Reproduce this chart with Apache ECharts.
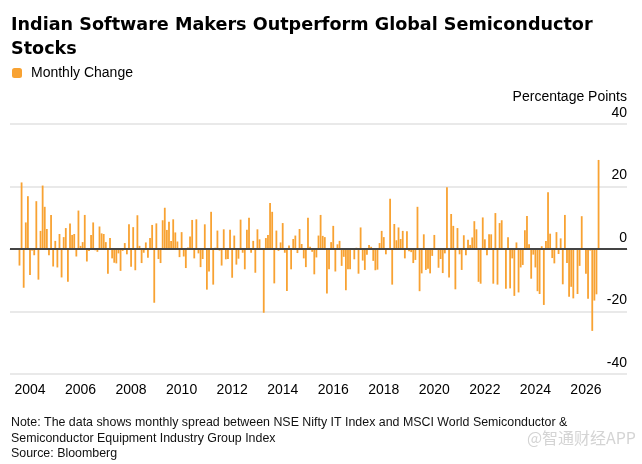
<!DOCTYPE html>
<html>
<head>
<meta charset="utf-8">
<script src="https://cdn.jsdelivr.net/npm/echarts@6/dist/echarts.min.js"></script>
<style>
	html, body { margin: 0; padding: 0; background: #fff; }
	#chart01 { width: 642px; height: 464px; }
</style>
</head>
<body>
<div id="chart01"></div>
<script>
// 첫 데이터 월 (막대 하나 = 한 달)
const firstMonth = [2003, 8];
// 축 왼쪽/오른쪽 여백 (빈 달 수)
const padBefore = 4;
const padAfter = 13;

// 월별 스프레드 (Percentage Points), 2003-08 ~ 2026-07
const monthlyChange = [
	// 2003-08 ~
	-5.3, 21.3, -12.4, 8.5, 16.9, -8.3, -0.5, -2, 15.3, -9.8, 5.8, 20.3, 13.5, 6.4, -2, 10.9,
	-5.6, 2.6, -5.9, 4.8, -9.1, 3.8, 6.7, -10.5, 8.2, 4.5, 4.8, -2.4, 12.3, 1, 2.2, 10.9,
	-4, -0.6, 4.5, 8.5, -0.4, -0.9, 7.2, 5, 4.8, 2.2, -7.9, 3.5,
	-3, -4.4, -4.6, -1.4, -7, -0.6, 1.9, -1.7, 7.9, -5.7, 7, -6.8, 10.8, 1, -4.5, -1.2,
	2.1, -2.8, 3.5, 7.7, -17.2, 8.2, -3.2, -4.5, 9.2, 13.2, 6.1, 8.7, 2.6, 9.5, 5.3, 2.4,
	-2.6, 5.4, -2.4, -6.1, 0.5, 4, 9.3, -3, 9.5, -1.4, -5.8, -3.2, 7.9, -13, -7.2,
	11.9, -11.4, 0.4, 5.9, -0.5, -5.3, 6.3, -3.3, -3.2, 6.2, -9.2, 4.3, -5, -3.1, 9.4, -1.2,
	-6.5, 6.2, 10, -1.2, 2.6, -7.6, 6.3, 3.1, 0.3, -20.4, 3.5, 4.5, 14.7, 11.9, -11, 5.9,
	-0.6, 2.1, 8.3, -1.2, -13.4, 1.1, -6.5, 3.2, 4.3, -1.3, 6.4, 1.6, -3, -5.8, 10, 0.7,
	-0.9, -8.1, -2.7, 4.3, 10.9, 4.2, 3.8, -14.2, -6.5, 2.2, 7.4, -7.2, 1.5, 2.6, -5.4, -2.5,
	-13.2, -6.5, -6.5, -0.3, -3.3, 0.4, -7.9, 6.9, -3.7, -6.7, -1.8, 1.3, 0.7, -3.8, -6.8, -6.6,
	1.9, 5.8, 3.8, -1.7, 0.3, 16.1, -11.4, 8, 2.8, 6.9, 3.2, 5.8, -3, 5.7, -0.7,
	-1, -4.5, -3.5, 13.5, -13.5, -7.8, 4.7, -6.7, -6.3, -7.8, -2.2, 4.5, -0.3, -6, -3.2, -7.7,
	-1.4, 19.8, -9.1, 11.2, 7.4, -12.9, 6.7, -1.7, -6.7, 4.4, -2, 3, 1.3, 3.7, 8.9, 6.3,
	-10.5, -11.1, 10.1, 3.1, -2, 4.7, 4.7, -11.1, 11.5, -11.4, 8.3, 9.2, 0.3, -12.7, 3.8,
	-12.6, -3, -15, 2.1, -13.9, -5.9, -5.1, 6, 10.6, 1.5, -9.5, -1.8, -5.9, -13.5, -14.4, 0.9,
	-17.9, 2.6, 18.2, 4.9, -2.9, -4.6, 5.4, -1.6, 3.4, -11.3, 10.9, -4.5, -15.3, -12.1, -15.8, 0.3,
	-14.4, -5.4, 10.5, 0.3, -7.9, -15.9, -0.5, -26.2, -16.5, -14.5, 28.5
];

// x축 라벨 (짝수 연도)
const yearLabels = ['2004', '2006', '2008', '2010', '2012', '2014', '2016', '2018', '2020', '2022', '2024', '2026'];
// y축 눈금
const yTicks = [-40, -20, 0, 20, 40];

const noteLines = [
	'Note: The data shows monthly spread between NSE Nifty IT Index and MSCI World Semiconductor &',
	'Semiconductor Equipment Industry Group Index',
	'Source: Bloomberg'
];

// 카테고리(월) 생성
const months = [];
const barData = [];
const total = padBefore + monthlyChange.length + padAfter;
for (let i = 0; i < total; i++) {
	const m0 = firstMonth[1] - 1 - padBefore + i;
	const y = firstMonth[0] + Math.floor(m0 / 12);
	const m = ((m0 % 12) + 12) % 12 + 1;
	months.push(y + '-' + String(m).padStart(2, '0'));
	const k = i - padBefore;
	barData.push(k >= 0 && k < monthlyChange.length ? monthlyChange[k] : null);
}

const isLabelYear = (val) => val.endsWith('-01') && yearLabels.includes(val.slice(0, 4));
const isOtherYear = (val) => val.endsWith('-01') && !yearLabels.includes(val.slice(0, 4));

const FONT = '"Liberation Sans", Arial, sans-serif';

const option = {
	animation: false,
	textStyle: { fontFamily: FONT },
	title: {
		text: 'Indian Software Makers Outperform Global Semiconductor\nStocks',
		left: 11,
		top: 13,
		padding: 0,
		textStyle: {
			fontSize: 17.6,
			fontWeight: 'bold',
			lineHeight: 24.5,
			color: '#000',
			fontFamily: '"DejaVu Sans", sans-serif'
		}
	},
	legend: {
		data: ['Monthly Change'],
		left: 12,
		top: 66,
		padding: 0,
		icon: 'roundRect',
		itemWidth: 10,
		itemHeight: 10,
		textStyle: { fontSize: 14, color: '#000', padding: [0, 0, 0, 4] }
	},
	grid: {
		left: 10,
		width: 617,
		top: 124,
		bottom: 90
	},
	xAxis: [
		{
			type: 'category',
			data: months,
			boundaryGap: true,
			axisLine: { lineStyle: { color: '#cfcfcf', width: 1 } },
			axisTick: {
				interval: (idx, val) => isLabelYear(val),
				length: 5,
				lineStyle: { color: '#555', width: 1 }
			},
			axisLabel: {
				interval: (idx, val) => isLabelYear(val),
				formatter: (val) => val.slice(0, 4),
				fontSize: 14,
				color: '#000',
				margin: 9
			},
			splitLine: { show: false }
		},
		{
			type: 'category',
			data: months,
			position: 'bottom',
			boundaryGap: true,
			axisLine: { show: false },
			axisTick: {
				interval: (idx, val) => isOtherYear(val),
				length: 3,
				lineStyle: { color: '#c8c8c8', width: 1 }
			},
			axisLabel: { show: false },
			splitLine: { show: false }
		}
	],
	yAxis: {
		type: 'value',
		position: 'right',
		min: yTicks[0],
		max: yTicks[yTicks.length - 1],
		interval: 20,
		name: 'Percentage Points',
		nameLocation: 'end',
		nameGap: 27,
		nameTextStyle: { fontSize: 14, color: '#000', align: 'right', verticalAlign: 'middle' },
		axisLine: { show: false },
		axisTick: { show: false },
		axisLabel: {
			inside: true,
			margin: 0,
			fontSize: 14,
			color: '#000',
			verticalAlign: 'bottom',
			padding: [0, 0, 4, 0]
		},
		splitLine: { lineStyle: { color: '#e2e2e2', width: 1.5 } }
	},
	series: [
		{
			name: 'Monthly Change',
			type: 'bar',
			data: barData,
			barWidth: 1.8,
			itemStyle: { color: '#F8A232' },
			markLine: {
				silent: true,
				symbol: 'none',
				label: { show: false },
				lineStyle: { color: '#444', width: 2, type: 'solid' },
				data: [{ yAxis: 0 }],
				z: 10
			}
		}
	],
	graphic: [
		{
			type: 'text',
			left: 11,
			top: 415,
			style: {
				text: noteLines.join('\n'),
				font: '12.4px ' + FONT,
				lineHeight: 15.5,
				fill: '#111'
			}
		},
		{
			type: 'text',
			right: 6,
			top: 430,
			style: {
				text: '@智通财经APP',
				font: '16px "Noto Sans CJK SC", sans-serif',
				fill: '#d4d4d4'
			}
		}
	]
};

const myChart = echarts.init(document.getElementById('chart01'), null, { renderer: 'canvas' });
myChart.setOption(option);
window.addEventListener('resize', myChart.resize);
</script>
</body>
</html>
